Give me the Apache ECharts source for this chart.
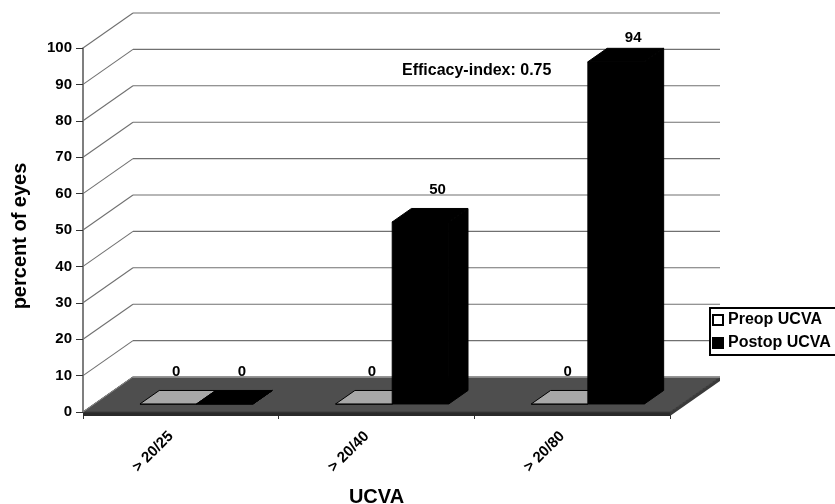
<!DOCTYPE html>
<html>
<head>
<meta charset="utf-8">
<script src="https://cdn.jsdelivr.net/npm/echarts@6/dist/echarts.min.js"></script>
<style>
html,body{margin:0;padding:0;background:#fff;}
#chart{width:835px;height:504px;}
</style>
</head>
<body>
<div id="chart"></div>
<script>
// ---- data ----
var categories = ['> 20/25', '> 20/40', '> 20/80'];
var preopValues = [0, 0, 0];
var postopValues = [0, 50, 94];
var seriesNames = ['Preop UCVA', 'Postop UCVA'];
var yTicks = [0, 10, 20, 30, 40, 50, 60, 70, 80, 90, 100];
var annotationText = 'Efficacy-index: 0.75';

// ---- 3D projection style ----
var DX = 50, DY = -35;          // depth vector of the wall/floor
var BAR_FRONT = 0.23, BAR_BACK = 0.615; // bar depth range (fraction of depth)
var BAR_START = 0.2325, BAR_W = 0.289;  // bar position within a band
var FONT = 'Liberation Sans, Arial, sans-serif';

var chart = echarts.init(document.getElementById('chart'), null, {renderer: 'canvas'});

function wallItem(params, api) {
  var cs = params.coordSys;
  var y = api.coord([0, api.value(1)])[1];
  var x0 = cs.x, x1 = cs.x + cs.width;
  return {
    type: 'group',
    children: [
      {type: 'line', shape: {x1: x0, y1: y, x2: x0 + DX, y2: y + DY},
       style: {stroke: '#707070', lineWidth: 1.1}},
      {type: 'line', shape: {x1: x0 + DX, y1: y + DY, x2: x1 + DX, y2: y + DY},
       style: {stroke: '#707070', lineWidth: 1.1}}
    ]
  };
}

function floorItem(params, api) {
  var cs = params.coordSys;
  var y = api.coord([0, 0])[1];
  var x0 = cs.x, x1 = cs.x + cs.width;
  return {
    type: 'group',
    children: [
      {type: 'polygon', shape: {points: [[x0, y], [x1, y], [x1, y + 4], [x0, y + 4]]},
       style: {fill: '#2a2a2a'}},
      {type: 'polygon', shape: {points: [[x1, y], [x1 + DX, y + DY], [x1 + DX, y + DY + 4], [x1, y + 4]]},
       style: {fill: '#3a3a3a'}},
      {type: 'polygon', shape: {points: [[x0, y], [x1, y], [x1 + DX, y + DY], [x0 + DX, y + DY]]},
       style: {fill: '#4e4e4e', stroke: '#3a3a3a', lineWidth: 1}},
      {type: 'line', shape: {x1: x0 + DX, y1: y + DY, x2: x1 + DX, y2: y + DY},
       style: {stroke: '#a0a0a0', lineWidth: 1.5}},
      {type: 'line', shape: {x1: x0, y1: y, x2: x0 + DX, y2: y + DY},
       style: {stroke: '#8a8a8a', lineWidth: 1}}
    ]
  };
}

function makeBarRender(sIdx, faceColor, labelShift) {
  return function (params, api) {
    var cs = params.coordSys;
    var idx = api.value(0);
    var v = api.value(1);
    var band = api.size([1, 0])[0];
    var c0 = api.coord([idx, 0]);
    var cv = api.coord([idx, v]);
    var left = c0[0] - band / 2 + band * (BAR_START + sIdx * BAR_W);
    var right = left + band * BAR_W;
    var fx = DX * BAR_FRONT, fy = DY * BAR_FRONT;
    var bx = DX * BAR_BACK, by = DY * BAR_BACK;
    var yb = c0[1], yt = cv[1];
    var stroke = '#000';
    var children = [];
    // right side face
    children.push({type: 'polygon', shape: {points: [
      [right + fx, yb + fy], [right + bx, yb + by], [right + bx, yt + by], [right + fx, yt + fy]]},
      style: {fill: faceColor, stroke: stroke, lineWidth: 1}});
    // front face
    children.push({type: 'polygon', shape: {points: [
      [left + fx, yb + fy], [right + fx, yb + fy], [right + fx, yt + fy], [left + fx, yt + fy]]},
      style: {fill: faceColor, stroke: stroke, lineWidth: 1}});
    // top face
    children.push({type: 'polygon', shape: {points: [
      [left + fx, yt + fy], [right + fx, yt + fy], [right + bx, yt + by], [left + bx, yt + by]]},
      style: {fill: faceColor, stroke: stroke, lineWidth: 1}});
    // value label
    var lx = (left + right) / 2 + fx + labelShift;
    var ly = Math.max(yt + by - 19, cs.y - 10);
    children.push({type: 'text', style: {
      text: String(v), x: lx, y: ly, textAlign: 'center', textVerticalAlign: 'middle',
      font: 'bold 15px ' + FONT, fill: '#000'}});
    return {type: 'group', children: children};
  };
}

var wallData = yTicks.map(function (t) { return [0, t]; });
var preopData = preopValues.map(function (v, i) { return [i, v]; });
var postopData = postopValues.map(function (v, i) { return [i, v]; });

var option = {
  backgroundColor: '#fff',
  animation: false,
  grid: {left: 83, top: 48, width: 587, height: 364, containLabel: false, outerBoundsMode: 'none'},
  xAxis: {
    type: 'category',
    data: categories,
    boundaryGap: true,
    axisLine: {show: true, lineStyle: {color: '#333', width: 1}},
    axisTick: {show: true, length: 7, lineStyle: {color: '#333'}},
    axisLabel: {rotate: 45, margin: 12, padding: [0, 14, 0, 0], color: '#000', fontSize: 15, fontWeight: 'bold', fontFamily: FONT},
    name: 'UCVA',
    nameLocation: 'middle',
    nameGap: 75,
    nameTextStyle: {color: '#000', fontSize: 20, fontWeight: 'bold', fontFamily: FONT},
    splitLine: {show: false}
  },
  yAxis: {
    type: 'value',
    min: 0, max: 100, interval: 10,
    axisLine: {show: true, lineStyle: {color: '#555', width: 1.5}},
    axisTick: {show: true, length: 7, lineStyle: {color: '#333'}},
    axisLabel: {margin: 11, color: '#000', fontSize: 15, fontWeight: 'bold', fontFamily: FONT},
    splitLine: {show: false},
    name: 'percent of eyes',
    nameLocation: 'middle',
    nameGap: 53,
    nameRotate: 90,
    nameTextStyle: {color: '#000', fontSize: 20, fontWeight: 'bold', fontFamily: FONT, padding: [0, 12, 0, 0]}
  },
  legend: {
    data: seriesNames,
    orient: 'vertical',
    left: 710, top: 308,
    itemWidth: 10, itemHeight: 10, itemGap: 7,
    padding: [4, 6, 4, 2],
    backgroundColor: '#fff',
    borderColor: '#000', borderWidth: 2, borderRadius: 0,
    icon: 'rect',
    textStyle: {color: '#000', fontSize: 16, fontWeight: 'bold', fontFamily: FONT}
  },
  graphic: [{
    type: 'text', left: 402, top: 63,
    style: {text: annotationText, font: 'bold 16px ' + FONT, fill: '#000'}
  }],
  series: [
    {type: 'custom', name: '_walls', silent: true, clip: false, z: 1,
     renderItem: wallItem, encode: {x: 0, y: 1}, data: wallData},
    {type: 'custom', name: '_floor', silent: true, clip: false, z: 2,
     renderItem: floorItem, encode: {x: 0, y: 1}, data: [[0, 0]]},
    {type: 'custom', name: seriesNames[0], clip: false, z: 3,
     itemStyle: {color: '#fff', borderColor: '#000', borderWidth: 1.5},
     renderItem: makeBarRender(0, '#a8a8a8', 8), encode: {x: 0, y: 1}, data: preopData},
    {type: 'custom', name: seriesNames[1], clip: false, z: 4,
     itemStyle: {color: '#000', borderColor: '#000', borderWidth: 1},
     renderItem: makeBarRender(1, '#000', 17), encode: {x: 0, y: 1}, data: postopData}
  ]
};
chart.setOption(option);
</script>
</body>
</html>
